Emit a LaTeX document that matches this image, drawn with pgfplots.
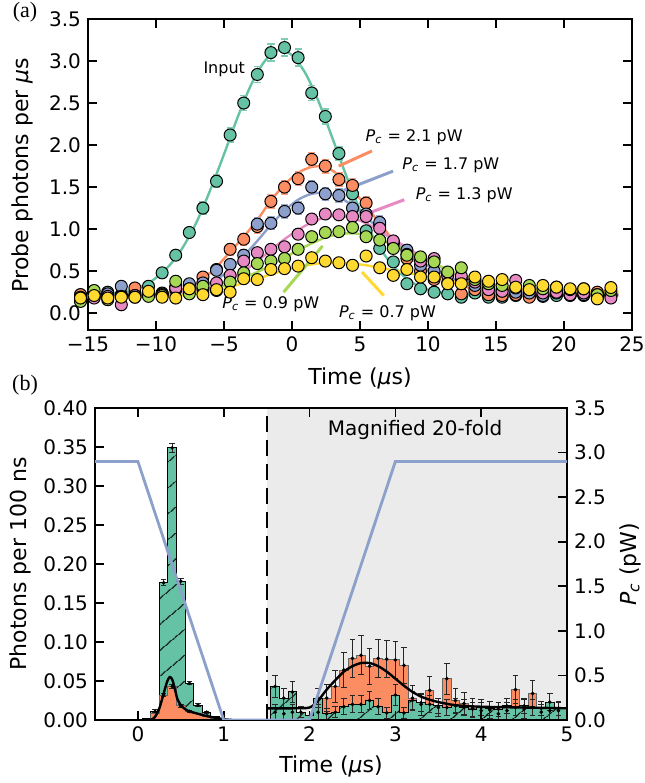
\documentclass[border=0pt]{standalone}
\usepackage{fontspec}
\setmainfont{DejaVu Sans}
\newfontfamily\labelserif{Liberation Serif}
\usepackage{pgfplots}
\usepackage{pgfplotstable}
\pgfplotsset{compat=1.18}
\usetikzlibrary{patterns.meta}

\definecolor{cIn}{HTML}{66C2A5}
\definecolor{cOr}{HTML}{FC8D62}
\definecolor{cBl}{HTML}{8DA0CB}
\definecolor{cPk}{HTML}{E78AC3}
\definecolor{cGr}{HTML}{A6D854}
\definecolor{cYe}{HTML}{FFD92F}
\definecolor{shade}{HTML}{EBEBEB}

\newcommand\tickfont{\fontsize{10bp}{12bp}\selectfont}
\newcommand\axfont{\fontsize{11bp}{13bp}\selectfont}
\newcommand\annfont{\fontsize{8bp}{9.6bp}\selectfont}
\newcommand\Pc{\textit{P}\textsubscript{\textit{c}}}

\pgfplotsset{
  mystyle/.style={scale only axis, tick align=inside, major tick length=4.5bp,
    axis line style={line width=1.1bp}, every tick/.style={black, line width=0.8bp},
    tick label style={font=\tickfont}, /pgf/number format/assume math mode=true},
  mk/.style={only marks, mark=*, mark size=3.0bp, mark options={draw=black, fill=#1, line width=0.5bp}},
  fitl/.style={#1, line width=1.2bp, smooth},
  hatchy/.style={postaction={pattern={Lines[angle=40,distance=10bp,line width=0.6bp]}, pattern color=black}},
}

\pgfplotstableread{
t inp ein ora eor blu ebl pin gre yel
-15.55 0.22 0.03 0.22 0.03 0.15 0.03 0.19 0.14 0.18
-14.55 0.23 0.03 0.22 0.03 0.19 0.03 0.18 0.27 0.21
-13.55 0.25 0.03 0.22 0.03 0.23 0.03 0.20 0.16 0.18
-12.55 0.22 0.03 0.21 0.03 0.32 0.03 0.10 0.20 0.19
-11.55 0.24 0.03 0.30 0.03 0.21 0.03 0.21 0.19 0.19
-10.55 0.32 0.03 0.24 0.03 0.22 0.03 0.23 0.20 0.26
-9.55 0.48 0.04 0.24 0.03 0.23 0.03 0.22 0.21 0.19
-8.55 0.69 0.05 0.28 0.03 0.32 0.03 0.30 0.38 0.18
-7.55 0.96 0.06 0.33 0.03 0.35 0.03 0.29 0.23 0.29
-6.55 1.25 0.07 0.43 0.04 0.36 0.03 0.29 0.32 0.22
-5.55 1.57 0.075 0.52 0.04 0.51 0.04 0.36 0.27 0.28
-4.55 2.12 0.085 0.76 0.07 0.58 0.06 0.45 0.37 0.25
-3.55 2.50 0.09 0.88 0.07 0.69 0.06 0.62 0.48 0.41
-2.55 2.84 0.095 1.03 0.08 1.06 0.075 0.72 0.59 0.40
-1.55 3.10 0.10 1.33 0.08 1.07 0.075 0.76 0.62 0.52
-0.55 3.16 0.10 1.50 0.08 1.21 0.075 0.79 0.65 0.53
0.45 3.04 0.10 1.60 0.08 1.25 0.075 0.94 0.76 0.56
1.45 2.62 0.09 1.83 0.08 1.50 0.075 1.12 0.91 0.66
2.45 2.34 0.09 1.75 0.08 1.42 0.075 1.18 0.96 0.62
3.45 1.90 0.08 1.59 0.08 1.40 0.075 1.17 0.97 0.60
4.45 1.42 0.07 1.52 0.08 1.25 0.075 1.15 1.02 0.57
5.45 0.98 0.06 1.31 0.08 1.18 0.075 1.15 0.91 0.68
6.45 0.77 0.05 1.05 0.08 1.08 0.075 1.01 0.87 0.54
7.45 0.61 0.04 0.85 0.07 0.83 0.06 0.86 0.77 0.45
8.45 0.35 0.04 0.65 0.05 0.75 0.06 0.70 0.69 0.52
9.45 0.29 0.03 0.50 0.04 0.57 0.05 0.62 0.67 0.43
10.45 0.25 0.03 0.40 0.04 0.50 0.04 0.65 0.61 0.43
11.45 0.23 0.03 0.36 0.03 0.47 0.04 0.45 0.49 0.35
12.45 0.19 0.03 0.23 0.03 0.40 0.03 0.44 0.54 0.35
13.45 0.24 0.03 0.28 0.03 0.33 0.03 0.37 0.40 0.43
14.45 0.19 0.03 0.22 0.03 0.30 0.03 0.28 0.35 0.38
15.45 0.19 0.03 0.21 0.03 0.28 0.03 0.26 0.33 0.40
16.45 0.21 0.03 0.22 0.03 0.25 0.03 0.39 0.30 0.31
17.45 0.20 0.03 0.19 0.03 0.24 0.03 0.28 0.33 0.28
18.45 0.20 0.03 0.22 0.03 0.21 0.03 0.24 0.29 0.33
19.45 0.21 0.03 0.24 0.03 0.25 0.03 0.25 0.31 0.31
20.45 0.21 0.03 0.22 0.03 0.22 0.03 0.22 0.28 0.29
21.45 0.21 0.03 0.23 0.03 0.22 0.03 0.24 0.29 0.29
22.45 0.20 0.03 0.25 0.03 0.20 0.03 0.22 0.22 0.17
23.45 0.21 0.03 0.22 0.03 0.22 0.03 0.18 0.27 0.305
}\topdata

\begin{document}
\begin{tikzpicture}
\path[use as bounding box] (0,0) rectangle (322.5bp,391.5bp);

% ---------------- panel (a) ----------------
\begin{axis}[mystyle, at={(44bp,226.5bp)}, anchor=south west,
  width=272bp, height=155.5bp, clip=false,
  xmin=-15, xmax=25, ymin=-0.2, ymax=3.5,
  xtick={-15,-10,-5,0,5,10,15,20,25},
  xticklabels={−15,−10,−5,0,5,10,15,20,25},
  ytick={0,0.5,1,1.5,2,2.5,3,3.5},
  yticklabel style={/pgf/number format/.cd, fixed, fixed zerofill, precision=1}]

\addplot[fitl=cIn] coordinates {(-16,0.21)(-14,0.22)(-13,0.24)(-12,0.27)(-11,0.32)(-10,0.42)(-9,0.57)(-8,0.79)(-7,1.09)(-6,1.47)(-5,1.89)(-4,2.33)(-3,2.72)(-2,3.00)(-1,3.13)(0,3.07)(1,2.85)(2,2.50)(3,2.07)(4,1.63)(5,1.23)(6,0.90)(7,0.65)(8,0.47)(9,0.35)(10,0.28)(11,0.245)(12,0.225)(13,0.215)(14,0.21)(24,0.21)};
\addplot[fitl=cOr] coordinates {(-16,0.21)(-12,0.21)(-10.55,0.215)(-9.55,0.23)(-8.55,0.26)(-7.55,0.31)(-6.55,0.41)(-5.55,0.55)(-4.55,0.73)(-3.55,0.91)(-2.55,1.11)(-1.55,1.34)(-0.55,1.53)(0.45,1.67)(1.45,1.74)(2.45,1.74)(3.45,1.64)(4.45,1.47)(5.45,1.27)(6.45,1.07)(7.45,0.87)(8.45,0.70)(9.45,0.57)(10.45,0.47)(11.45,0.39)(12.45,0.33)(13.45,0.28)(14.45,0.25)(15.45,0.23)(17,0.22)(24,0.21)};
\addplot[fitl=cBl] coordinates {(-16,0.21)(-11,0.215)(-9.55,0.22)(-8.55,0.24)(-7.55,0.27)(-6.55,0.32)(-5.55,0.40)(-4.55,0.52)(-3.55,0.68)(-2.55,0.86)(-1.55,1.05)(-0.55,1.22)(0.45,1.35)(1.45,1.42)(2.45,1.43)(3.45,1.38)(4.45,1.28)(5.45,1.14)(6.45,1.00)(7.45,0.86)(8.45,0.73)(9.45,0.62)(10.45,0.52)(11.45,0.44)(12.45,0.37)(13.45,0.32)(14.45,0.28)(15.45,0.25)(16.45,0.235)(18,0.225)(24,0.22)};
\addplot[fitl=cPk] coordinates {(-16,0.20)(-11,0.205)(-9.55,0.21)(-8.55,0.23)(-7.55,0.25)(-6.55,0.28)(-5.55,0.33)(-4.55,0.40)(-3.55,0.50)(-2.55,0.62)(-1.55,0.75)(-0.55,0.88)(0.45,0.99)(1.45,1.08)(2.45,1.14)(3.45,1.16)(4.45,1.13)(5.45,1.07)(6.45,0.98)(7.45,0.88)(8.45,0.78)(9.45,0.68)(10.45,0.59)(11.45,0.51)(12.45,0.44)(13.45,0.38)(14.45,0.33)(15.45,0.29)(16.45,0.27)(17.45,0.25)(19,0.235)(24,0.22)};
\addplot[fitl=cGr] coordinates {(-16,0.19)(-11,0.195)(-9.55,0.20)(-8.55,0.21)(-7.55,0.23)(-6.55,0.26)(-5.55,0.30)(-4.55,0.35)(-3.55,0.42)(-2.55,0.49)(-1.55,0.57)(-0.55,0.66)(0.45,0.75)(1.45,0.83)(2.45,0.90)(3.45,0.94)(4.45,0.95)(5.45,0.93)(6.45,0.88)(7.45,0.81)(8.45,0.74)(9.45,0.66)(10.45,0.59)(11.45,0.52)(12.45,0.46)(13.45,0.41)(14.45,0.36)(15.45,0.32)(16.45,0.29)(17.45,0.27)(18.45,0.26)(20,0.25)(24,0.24)};
\addplot[fitl=cYe] coordinates {(-16,0.19)(-10,0.195)(-8.55,0.21)(-7.55,0.22)(-6.55,0.24)(-5.55,0.27)(-4.55,0.31)(-3.55,0.36)(-2.55,0.41)(-1.55,0.46)(-0.55,0.51)(0.45,0.55)(1.45,0.58)(2.45,0.60)(3.45,0.60)(4.45,0.59)(5.45,0.57)(6.45,0.54)(7.45,0.51)(8.45,0.48)(9.45,0.45)(10.45,0.42)(11.45,0.39)(12.45,0.36)(13.45,0.34)(14.45,0.32)(15.45,0.30)(16.45,0.29)(17.45,0.28)(19,0.27)(21,0.26)(24,0.255)};

\addplot[mk=cIn, error bars/.cd, y dir=both, y explicit,
  error bar style={cIn!85!white, line width=0.8bp},
  error mark options={rotate=90, cIn!85!white, mark size=1.8bp, line width=0.8bp}]
  table[x=t, y=inp, y error=ein] {\topdata};
\addplot[mk=cOr, error bars/.cd, y dir=both, y explicit,
  error bar style={cOr!85!white, line width=0.8bp},
  error mark options={rotate=90, cOr!85!white, mark size=1.8bp, line width=0.8bp}]
  table[x=t, y=ora, y error=eor] {\topdata};
\addplot[mk=cBl, error bars/.cd, y dir=both, y explicit,
  error bar style={cBl!85!white, line width=0.8bp},
  error mark options={rotate=90, cBl!85!white, mark size=1.8bp, line width=0.8bp}]
  table[x=t, y=blu, y error=ebl] {\topdata};
\addplot[mk=cPk] table[x=t, y=pin] {\topdata};
\addplot[mk=cGr] table[x=t, y=gre] {\topdata};
\addplot[mk=cYe] table[x=t, y=yel] {\topdata};

\draw[cOr, line width=1.5bp] (axis cs:3.43,1.75) -- (axis cs:5.88,1.93);
\draw[cBl, line width=1.5bp] (axis cs:3.79,1.46) -- (axis cs:7.43,1.69);
\draw[cPk, line width=1.5bp] (axis cs:5.63,1.19) -- (axis cs:8.26,1.35);
\draw[cGr, line width=1.5bp] (axis cs:-0.62,0.25) -- (axis cs:2.25,0.80);
\draw[cYe, line width=1.5bp] (axis cs:5.15,0.49) -- (axis cs:6.74,0.21);

\node[anchor=east, inner sep=0pt, font=\annfont] at (axis cs:-3.43,2.90) {Input};
\node[anchor=west, inner sep=0pt, font=\annfont] at (axis cs:5.39,2.09) {\Pc\ = 2.1 pW};
\node[anchor=west, inner sep=0pt, font=\annfont] at (axis cs:8.09,1.76) {\Pc\ = 1.7 pW};
\node[anchor=west, inner sep=0pt, font=\annfont] at (axis cs:9.07,1.40) {\Pc\ = 1.3 pW};
\node[anchor=west, inner sep=0pt, font=\annfont] at (axis cs:-5.15,0.107) {\Pc\ = 0.9 pW};
\node[anchor=west, inner sep=0pt, font=\annfont] at (axis cs:3.43,0.0) {\Pc\ = 0.7 pW};
\end{axis}

% ---------------- panel (b) ----------------
\begin{axis}[mystyle, at={(47.5bp,31.5bp)}, anchor=south west,
  width=236bp, height=156bp, axis on top,
  xmin=-0.5, xmax=5, ymin=0, ymax=0.4,
  xtick={0,1,2,3,4,5},
  ytick={0,0.05,0.1,0.15,0.2,0.25,0.3,0.35,0.4}, ytick pos=left,
  yticklabel style={/pgf/number format/.cd, fixed, fixed zerofill, precision=2}]

\addplot[fill=shade, draw=none] coordinates {(1.5,0.4) (5,0.4)} \closedcycle;
\draw[dash pattern=on 8bp off 4bp, line width=0.9bp] (axis cs:1.5,0) -- (axis cs:1.5,0.4);

% left region: green then orange
\addplot[const plot, fill=cIn, draw=black, line width=0.5bp, hatchy]
  coordinates {(0.05,0.002)(0.15,0.011)(0.25,0.176)(0.35,0.349)(0.45,0.178)(0.55,0.047)(0.65,0.019)(0.75,0.010)(0.85,0.004)(0.95,0.001)(1.05,0.001)} \closedcycle;
\addplot[const plot, fill=cOr, draw=black!60, line width=0.5bp]
  coordinates {(0.15,0.008)(0.25,0.032)(0.35,0.043)(0.45,0.018)(0.55,0.011)(0.65,0.008)(0.75,0.005)(0.85,0.002)(0.95,0.002)} \closedcycle;

% right region (magnified): orange then green
\addplot[const plot, fill=cOr, draw=black!60, line width=0.5bp]
  coordinates {(1.55,0.010)(1.65,0.008)(1.75,0.010)(1.85,0.006)(1.95,0.004)(2.05,0.010)(2.15,0.028)(2.25,0.043)(2.35,0.064)(2.45,0.079)(2.55,0.083)(2.65,0.069)(2.75,0.079)(2.85,0.078)(2.95,0.077)(3.05,0.070)(3.15,0.028)(3.25,0.020)(3.35,0.038)(3.45,0.016)(3.55,0.053)(3.65,0.025)(3.75,0.021)(3.85,0.015)(3.95,0.012)(4.05,0.013)(4.15,0.008)(4.25,0.012)(4.35,0.039)(4.45,0.014)(4.55,0.034)(4.65,0.010)(4.75,0.012)(4.85,0.012)(4.95,0.014)(5.0,0.014)} \closedcycle;
\addplot[const plot, fill=cIn, draw=black, line width=0.5bp, hatchy]
  coordinates {(1.55,0.043)(1.65,0.028)(1.75,0.036)(1.85,0.010)(1.95,0.006)(2.05,0.028)(2.15,0.008)(2.25,0.010)(2.35,0.017)(2.45,0.020)(2.55,0.020)(2.65,0.025)(2.75,0.017)(2.85,0.009)(2.95,0.032)(3.05,0.009)(3.15,0.025)(3.25,0.022)(3.35,0.020)(3.45,0.018)(3.55,0.016)(3.65,0.018)(3.75,0.016)(3.85,0.014)(3.95,0.016)(4.05,0.015)(4.15,0.014)(4.25,0.018)(4.35,0.016)(4.45,0.018)(4.55,0.016)(4.65,0.015)(4.75,0.023)(4.85,0.015)(4.95,0.015)(5.0,0.015)} \closedcycle;

% error bars
\addplot[only marks, mark=*, mark size=0.7bp, black,
  error bars/.cd, y dir=both, y explicit,
  error bar style={black!85, line width=0.5bp},
  error mark options={rotate=90, black!85, mark size=1.4bp, line width=0.5bp}]
  coordinates {(0.2,0.011)+-(0,0.002)(0.3,0.176)+-(0,0.004)(0.4,0.349)+-(0,0.006)(0.5,0.178)+-(0,0.004)(0.6,0.047)+-(0,0.002)(0.7,0.019)+-(0,0.002)(0.8,0.010)+-(0,0.0015)
  (0.3,0.032)+-(0,0.002)(0.4,0.043)+-(0,0.002)(0.5,0.018)+-(0,0.002)(0.6,0.011)+-(0,0.0015)};
\addplot[only marks, mark=*, mark size=0.7bp, black,
  error bars/.cd, y dir=both, y explicit,
  error bar style={black!85, line width=0.5bp},
  error mark options={rotate=90, black!85, mark size=1.4bp, line width=0.5bp}]
  coordinates {(1.6,0.010)+-(0,0.010)(1.7,0.008)+-(0,0.008)(1.8,0.010)+-(0,0.010)(2.1,0.010)+-(0,0.010)(2.2,0.028)+-(0,0.017)(2.3,0.043)+-(0,0.020)(2.4,0.064)+-(0,0.022)(2.5,0.079)+-(0,0.024)(2.6,0.083)+-(0,0.025)(2.7,0.069)+-(0,0.023)(2.8,0.079)+-(0,0.024)(2.9,0.078)+-(0,0.024)(3.0,0.077)+-(0,0.024)(3.1,0.070)+-(0,0.023)(3.2,0.028)+-(0,0.016)(3.3,0.020)+-(0,0.014)(3.4,0.038)+-(0,0.018)(3.5,0.016)+-(0,0.012)(3.6,0.053)+-(0,0.020)(3.7,0.025)+-(0,0.015)(3.8,0.021)+-(0,0.014)(3.9,0.015)+-(0,0.012)(4.0,0.012)+-(0,0.011)(4.1,0.013)+-(0,0.011)(4.2,0.008)+-(0,0.009)(4.3,0.012)+-(0,0.011)(4.4,0.039)+-(0,0.018)(4.5,0.014)+-(0,0.012)(4.6,0.034)+-(0,0.017)(4.7,0.010)+-(0,0.010)(4.8,0.012)+-(0,0.011)(4.9,0.012)+-(0,0.011)};
\addplot[only marks, mark=*, mark size=0.7bp, black,
  error bars/.cd, y dir=both, y explicit,
  error bar style={black!85, line width=0.5bp},
  error mark options={rotate=90, black!85, mark size=1.4bp, line width=0.5bp}]
  coordinates {(1.6,0.043)+-(0,0.014)(1.7,0.028)+-(0,0.012)(1.8,0.036)+-(0,0.013)(1.9,0.010)+-(0,0.007)(2.1,0.028)+-(0,0.012)(2.2,0.008)+-(0,0.007)(2.3,0.010)+-(0,0.007)(2.4,0.017)+-(0,0.010)(2.5,0.020)+-(0,0.011)(2.6,0.020)+-(0,0.011)(2.7,0.025)+-(0,0.012)(2.8,0.017)+-(0,0.010)(2.9,0.009)+-(0,0.007)(3.0,0.032)+-(0,0.013)(3.1,0.009)+-(0,0.007)(3.2,0.025)+-(0,0.012)(3.3,0.022)+-(0,0.011)(3.4,0.020)+-(0,0.011)(3.5,0.018)+-(0,0.010)(3.6,0.016)+-(0,0.010)(3.7,0.018)+-(0,0.010)(3.8,0.016)+-(0,0.010)(3.9,0.014)+-(0,0.009)(4.0,0.016)+-(0,0.010)(4.1,0.015)+-(0,0.009)(4.2,0.014)+-(0,0.009)(4.3,0.018)+-(0,0.010)(4.4,0.016)+-(0,0.010)(4.5,0.018)+-(0,0.010)(4.6,0.016)+-(0,0.010)(4.7,0.015)+-(0,0.009)(4.8,0.023)+-(0,0.011)(4.9,0.015)+-(0,0.009)};

% fits
\addplot[black, line width=1.2bp, smooth] coordinates {(0.12,0.0)(0.17,0.001)(0.2,0.004)(0.25,0.015)(0.3,0.034)(0.34,0.049)(0.37,0.055)(0.40,0.052)(0.43,0.040)(0.46,0.027)(0.5,0.019)(0.55,0.014)(0.6,0.011)(0.7,0.008)(0.8,0.005)(0.9,0.003)(1.0,0.001)(1.1,0.0)};
\addplot[black, line width=1.2bp, smooth] coordinates {(1.5,0.015)(1.8,0.015)(2.0,0.016)(2.1,0.025)(2.2,0.039)(2.3,0.051)(2.4,0.062)(2.5,0.069)(2.6,0.073)(2.7,0.073)(2.8,0.069)(2.9,0.062)(3.0,0.053)(3.1,0.044)(3.2,0.036)(3.3,0.030)(3.4,0.026)(3.5,0.023)(3.7,0.019)(4.0,0.017)(4.5,0.016)(5.0,0.015)};

\node[font=\tickfont] at (axis cs:3.23,0.372) {Magnified 20-fold};
\end{axis}

\begin{axis}[mystyle, at={(47.5bp,31.5bp)}, anchor=south west,
  width=236bp, height=156bp,
  xmin=-0.5, xmax=5, ymin=0, ymax=3.5,
  axis x line=none, axis y line*=right,
  ytick={0,0.5,1,1.5,2,2.5,3,3.5},
  yticklabel style={/pgf/number format/.cd, fixed, fixed zerofill, precision=1}]
\addplot[cBl, line width=1.4bp] coordinates {(-0.5,2.9)(0,2.9)(1,0)(2,0)(3,2.9)(5,2.9)};
\end{axis}

% labels
\node[font=\labelserif\fontsize{11bp}{13bp}\selectfont] at (12.5bp,385.5bp) {(a)};
\node[font=\labelserif\fontsize{11bp}{13bp}\selectfont] at (12.5bp,199bp) {(b)};
\node[rotate=90, font=\axfont] at (11bp,304bp) {Probe photons per \textit{μ}s};
\node[font=\axfont] at (180bp,202.5bp) {Time (\textit{μ}s)};
\node[rotate=90, font=\axfont] at (10bp,109.5bp) {Photons per 100 ns};
\node[rotate=90, font=\axfont] at (315bp,109.5bp) {\Pc\ (pW)};
\node[font=\axfont] at (165.5bp,8.5bp) {Time (\textit{μ}s)};
\end{tikzpicture}
\end{document}
